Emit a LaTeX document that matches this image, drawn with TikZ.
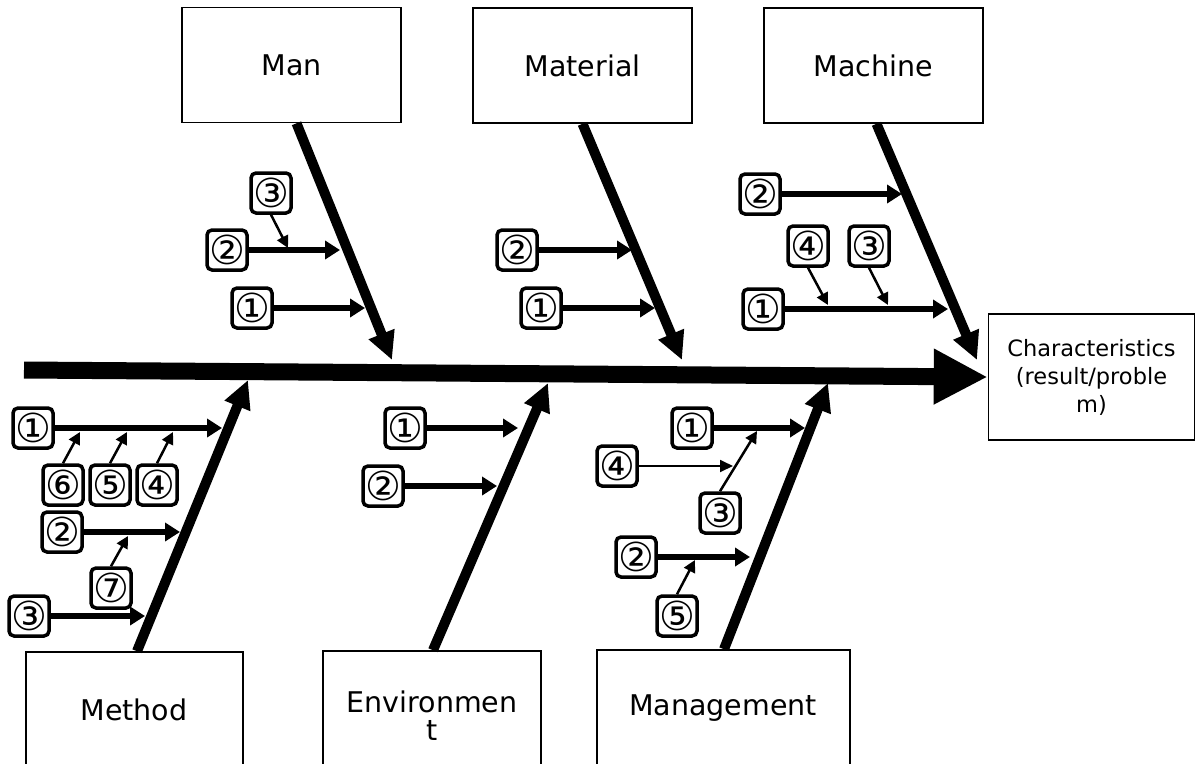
\documentclass[tikz,border=0pt]{standalone}
\usepackage{fontspec}
\setmainfont{DejaVu Sans}
\usetikzlibrary{arrows.meta}
\begin{document}
\begin{tikzpicture}[x=1pt,y=-1pt,
  catbox/.style={draw, line width=1.6pt, fill=white, minimum width=219pt, minimum height=115pt, inner sep=0pt, font=\fontsize{28.5}{30}\selectfont},
  lowbox/.style={draw, line width=1.6pt, fill=white, inner sep=0pt},
  cattext/.style={inner sep=0pt, align=center, font=\fontsize{28.5}{28}\selectfont},
  numbox/.style={draw, line width=3.5pt, rounded corners=5pt, fill=white, minimum width=40pt, minimum height=40pt, inner sep=0pt, font=\fontsize{40}{40}\selectfont},
  spinearrow/.style={line width=17pt, -{Triangle[length=54pt,width=52pt]}},
  bonearrow/.style={line width=10pt, -{Triangle[length=28pt,width=26pt]}},
  subarrow/.style={line width=6pt, -{Triangle[length=15pt,width=18pt]}},
  twigarrow/.style={line width=2.5pt, -{Triangle[length=12pt,width=12pt]}},
  finearrow/.style={line width=1.8pt, -{Triangle[length=13pt,width=12pt]}}
]
\useasboundingbox (0,0) rectangle (1196,763);
\clip (0,0) rectangle (1196,763);

% category boxes
\node[catbox] (man) at (291.5,65) {Man};
\node[catbox] (material) at (582.5,65.5) {Material};
\node[catbox] (machine) at (873.5,65.5) {Machine};
\node[lowbox, minimum width=206pt, minimum height=126pt, align=center, font=\fontsize{22.5}{28}\selectfont] (char) at (1091.5,377) {Characteristics\\(result/proble\\m)};

\node[lowbox, minimum width=217pt, minimum height=150pt] (method) at (134.5,727) {};
\node[lowbox, minimum width=218pt, minimum height=150pt] (env) at (432,726) {};
\node[lowbox, minimum width=253pt, minimum height=150pt] (mgmt) at (723.5,725) {};
\node[cattext] (methodtxt) at (134,710) {Method};
\node[cattext] (envtxt) at (432,716) {Environmen\\t};
\node[cattext] (mgmttxt) at (723,708) {Management};

% spine
\coordinate (spineL) at (24,370);
\draw[spinearrow] (spineL) -- (char.west);

% main bones
\coordinate (manT) at (392,360);
\coordinate (matT) at (682,360);
\coordinate (macT) at (977,360);
\coordinate (metT) at (248,380);
\coordinate (envT) at (548,383);
\coordinate (mgmT) at (828,383);
\draw[bonearrow] ([xshift=5pt]man.south) -- (manT);
\draw[bonearrow] (material.south) -- (matT);
\draw[bonearrow] ([xshift=3pt]machine.south) -- (macT);
\draw[bonearrow] ([xshift=2.5pt]method.north) -- (metT);
\draw[bonearrow] ([xshift=1pt]env.north) -- (envT);
\draw[bonearrow] ([xshift=0.5pt]mgmt.north) -- (mgmT);

% ---- Man group
\node[numbox] (man3) at (271,193) {③};
\node[numbox] (man2) at (227,250) {②};
\node[numbox] (man1) at (252,308) {①};
\coordinate (man2t) at (340,250);
\coordinate (man1t) at (365,308);
\coordinate (man3t) at (288,248);
\draw[subarrow] (man2) -- (man2t);
\draw[subarrow] (man1) -- (man1t);
\draw[twigarrow] (man3.south) -- (man3t);

% ---- Material group
\node[numbox] (mat2) at (517,250) {②};
\node[numbox] (mat1) at (541,308) {①};
\coordinate (mat2t) at (632,250);
\coordinate (mat1t) at (655,308);
\draw[subarrow] (mat2) -- (mat2t);
\draw[subarrow] (mat1) -- (mat1t);

% ---- Machine group
\node[numbox] (mac2) at (760,194) {②};
\node[numbox] (mac4) at (808,246) {④};
\node[numbox] (mac3) at (869,246) {③};
\node[numbox] (mac1) at (763,309) {①};
\coordinate (mac2t) at (902,194);
\coordinate (mac1t) at (948,309);
\coordinate (mac4t) at (828,305);
\coordinate (mac3t) at (888,305);
\draw[subarrow] (mac2) -- (mac2t);
\draw[subarrow] (mac1) -- (mac1t);
\draw[twigarrow] (mac4.south) -- (mac4t);
\draw[twigarrow] (mac3.south) -- (mac3t);

% ---- Method group
\node[numbox] (met1) at (33,428) {①};
\node[numbox] (met6) at (63,485) {⑥};
\node[numbox] (met5) at (110,485) {⑤};
\node[numbox] (met4) at (157,485) {④};
\node[numbox] (met2) at (62,532) {②};
\node[numbox] (met7) at (111,588) {⑦};
\node[numbox] (met3) at (29,616) {③};
\coordinate (met1t) at (222,428);
\coordinate (met2t) at (180,532);
\coordinate (met3t) at (145,616);
\coordinate (met6t) at (80,432);
\coordinate (met5t) at (127,432);
\coordinate (met4t) at (173,432);
\coordinate (met7t) at (128,536);
\draw[subarrow] (met1) -- (met1t);
\draw[subarrow] (met2) -- (met2t);
\draw[subarrow] (met3) -- (met3t);
\draw[twigarrow] (met6.north) -- (met6t);
\draw[twigarrow] (met5.north) -- (met5t);
\draw[twigarrow] (met4.north) -- (met4t);
\draw[twigarrow] (met7.north) -- (met7t);

% ---- Environment group
\node[numbox] (env1) at (405,428) {①};
\node[numbox] (env2) at (383,486) {②};
\coordinate (env1t) at (518,428);
\coordinate (env2t) at (497,486);
\draw[subarrow] (env1) -- (env1t);
\draw[subarrow] (env2) -- (env2t);

% ---- Management group
\node[numbox] (mgm1) at (692,428) {①};
\node[numbox] (mgm4) at (617,466) {④};
\node[numbox] (mgm3) at (720,513) {③};
\node[numbox] (mgm2) at (636,557) {②};
\node[numbox] (mgm5) at (677,616) {⑤};
\coordinate (mgm1t) at (805,428);
\coordinate (mgm4t) at (733,466);
\coordinate (mgm3t) at (757,431);
\coordinate (mgm2t) at (750,557);
\coordinate (mgm5t) at (695,560);
\draw[subarrow] (mgm1) -- (mgm1t);
\draw[finearrow] (mgm4) -- (mgm4t);
\draw[twigarrow] (mgm3.north) -- (mgm3t);
\draw[subarrow] (mgm2) -- (mgm2t);
\draw[twigarrow] (mgm5.north) -- (mgm5t);
\end{tikzpicture}
\end{document}
